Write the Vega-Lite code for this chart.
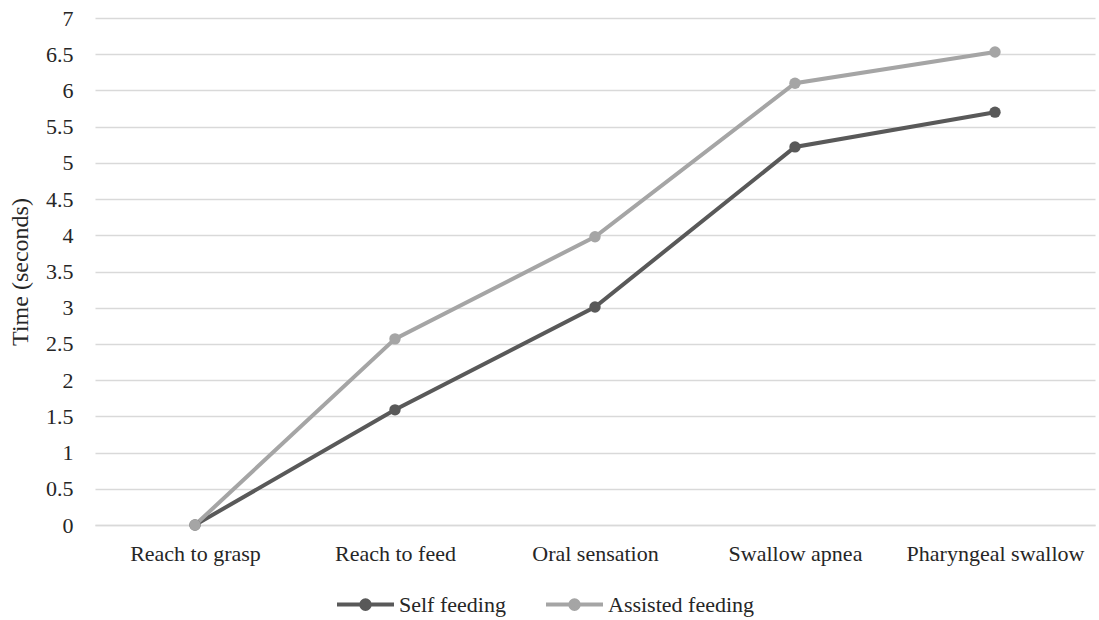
{
  "$schema": "https://vega.github.io/schema/vega-lite/v6.json",
  "autosize": "none",
  "width": 1000,
  "height": 507,
  "padding": {"left": 95, "top": 18, "right": 4, "bottom": 95},
  "background": "white",
  "config": {
    "font": "Liberation Serif",
    "view": {"stroke": null},
    "axis": {"labelFont": "Liberation Serif", "titleFont": "Liberation Serif", "labelColor": "#262626", "titleColor": "#262626"}
  },
  "data": {
    "values": [
      {"stage": "Reach to grasp", "series": "Self feeding", "time": 0},
      {"stage": "Reach to feed", "series": "Self feeding", "time": 1.59},
      {"stage": "Oral sensation", "series": "Self feeding", "time": 3.01},
      {"stage": "Swallow apnea", "series": "Self feeding", "time": 5.22},
      {"stage": "Pharyngeal swallow", "series": "Self feeding", "time": 5.7},
      {"stage": "Reach to grasp", "series": "Assisted feeding", "time": 0},
      {"stage": "Reach to feed", "series": "Assisted feeding", "time": 2.57},
      {"stage": "Oral sensation", "series": "Assisted feeding", "time": 3.98},
      {"stage": "Swallow apnea", "series": "Assisted feeding", "time": 6.1},
      {"stage": "Pharyngeal swallow", "series": "Assisted feeding", "time": 6.53}
    ]
  },
  "mark": {"type": "line", "strokeWidth": 4, "point": {"filled": true, "size": 130}},
  "encoding": {
    "x": {
      "field": "stage", "type": "nominal", "sort": null,
      "scale": {"paddingInner": 0, "paddingOuter": 0.5},
      "axis": {"title": null, "labelAngle": 0, "labelFontSize": 22, "labelPadding": 18, "ticks": false, "domainColor": "#d9d9d9", "domainWidth": 1.5}
    },
    "y": {
      "field": "time", "type": "quantitative",
      "scale": {"domain": [0, 7], "nice": false},
      "axis": {"title": "Time (seconds)", "titleFontSize": 24, "titleFontWeight": "normal", "titlePadding": 13, "labelFontSize": 22, "labelPadding": 22, "values": [0, 0.5, 1, 1.5, 2, 2.5, 3, 3.5, 4, 4.5, 5, 5.5, 6, 6.5, 7], "format": "~g", "labelOverlap": false, "domain": false, "ticks": false, "gridColor": "#d9d9d9", "gridWidth": 1.5}
    },
    "color": {
      "field": "series", "type": "nominal",
      "scale": {"domain": ["Self feeding", "Assisted feeding"], "range": ["#595959", "#a5a5a5"]},
      "legend": {
        "title": null, "orient": "none", "legendX": 240, "legendY": 556, "direction": "horizontal",
        "labelFontSize": 22, "labelColor": "#262626", "labelFont": "Liberation Serif",
        "symbolType": "M-1,0H1M-0.15,0A0.15,0.15 0 1,1 0.15,0A0.15,0.15 0 1,1 -0.15,0",
        "symbolSize": 3249, "symbolStrokeWidth": 4, "labelOffset": 3, "columnPadding": 32
      }
    }
  }
}
